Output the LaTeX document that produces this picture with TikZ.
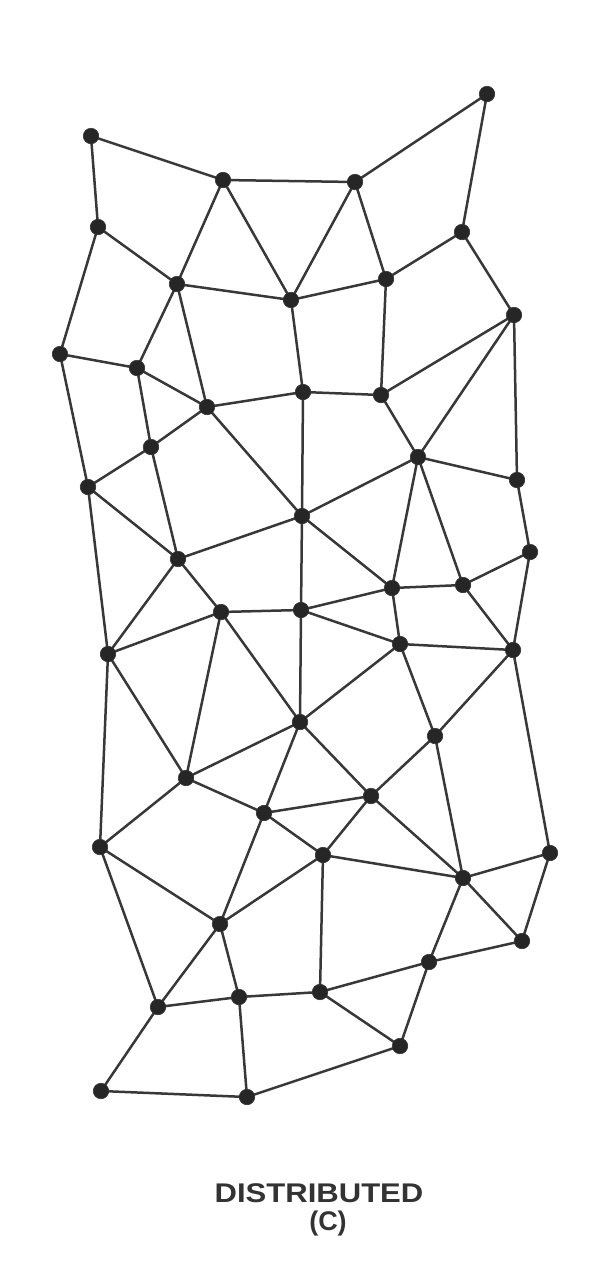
\documentclass[tikz,border=0pt]{standalone}
\usepackage{fontspec}
\setsansfont{Liberation Sans}
\begin{document}
\begin{tikzpicture}[x=1pt,y=-1pt,
  dot/.style={circle,fill=black!85,draw=black!80,line width=0.6pt,inner sep=0pt,minimum size=15.5pt},
  edge/.style={draw=black!78,line width=2.5pt},
  lbl/.style={font=\sffamily\bfseries\fontsize{27}{30}\selectfont,text=black!80,inner sep=0pt,anchor=base}]
\useasboundingbox (0,0) rectangle (608,1280);
\foreach \n/\x/\y in {
 1/91/136, 2/223/180, 3/355/182, 4/487/94, 5/98/227, 6/462/232, 7/177/284,
 8/291/300, 9/386/279, 10/514/315, 11/60/354, 12/137/368, 13/207/407,
 14/303/392, 15/381/395, 16/151/447, 17/418/457, 18/88/487, 19/517/480,
 20/302/516, 21/178/559, 22/530/552, 23/392/588, 24/463/585, 25/221/612,
 26/301/610, 27/400/644, 28/513/650, 29/108/654, 30/300/722, 31/435/736,
 32/186/778, 33/264/813, 34/371/796, 35/100/847, 36/323/855, 37/463/878,
 38/550/853, 39/220/924, 40/522/941, 41/429/962, 42/158/1007, 43/239/997,
 44/320/992, 45/400/1046, 46/101/1091, 47/247/1097}
 \coordinate (c\n) at (\x,\y);
\foreach \a/\b in {
 1/2, 1/5, 2/3, 3/4, 4/6, 2/7, 2/8, 3/8, 3/9, 5/7, 5/11, 7/8, 8/9, 9/6, 6/10,
 7/12, 7/13, 8/14, 9/15, 10/15, 10/17, 10/19, 11/12, 11/18, 12/13, 12/16,
 13/14, 13/16, 13/20, 14/15, 14/20, 15/17, 17/19, 17/20, 17/23, 17/24,
 19/22, 16/18, 16/21, 18/21, 18/29, 20/21, 20/26, 20/23, 21/25, 21/29,
 25/26, 26/23, 23/24, 24/22, 24/28, 22/28, 23/27, 26/27, 25/29, 25/32,
 25/30, 26/30, 27/28, 27/30, 27/31, 28/31, 28/38, 29/32, 29/35, 30/32,
 30/33, 30/34, 31/34, 31/37, 32/33, 32/35, 33/34, 33/36, 33/39, 34/36,
 34/37, 35/39, 36/37, 36/39, 36/44, 37/38, 37/40, 37/41, 38/40, 41/40,
 41/44, 41/45, 44/45, 44/43, 43/42, 43/39, 43/47, 42/39, 42/35, 42/46,
 46/47, 47/45}
 \draw[edge] (c\a) -- (c\b);
\foreach \n in {1,...,47}
 \node[dot] (n\n) at (c\n) {};
\node[lbl,xscale=1.15] (title) at (319,1202) {DISTRIBUTED};
\node[lbl] (sub) at (328,1230) {(C)};
\end{tikzpicture}
\end{document}
